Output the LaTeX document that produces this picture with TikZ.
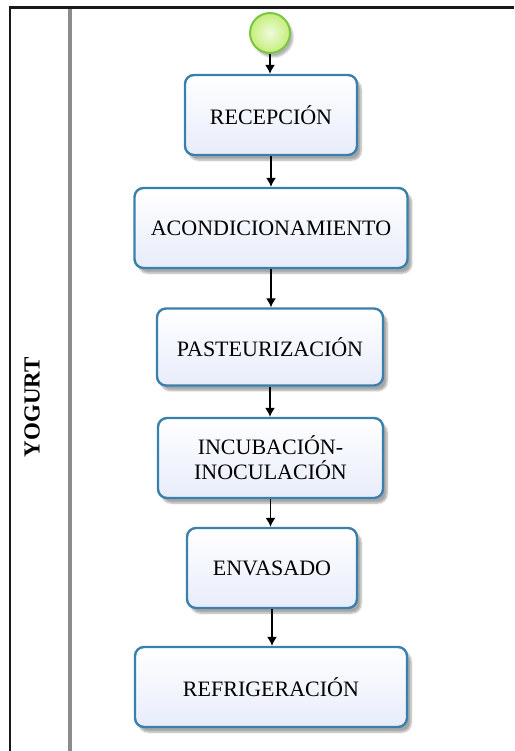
\documentclass[tikz,border=0pt]{standalone}
\usepackage{fontspec}
\setmainfont{Liberation Serif}
\usetikzlibrary{arrows.meta,shadows.blur}
\definecolor{boxborder}{HTML}{3A80AC}
\definecolor{boxfill}{HTML}{E8ECFA}
\definecolor{startfill}{HTML}{C4EE78}
\definecolor{startborder}{HTML}{7CC444}
\tikzset{
  stepbox/.style={rectangle, rounded corners=9pt, draw=boxborder, line width=2.4pt,
    top color=white, bottom color=boxfill, align=center,
    font=\fontsize{22}{25}\selectfont, inner sep=0pt,
    blur shadow={shadow xshift=4pt, shadow yshift=-5pt, shadow opacity=35, shadow blur steps=6}},
  startev/.style={circle, draw=startborder, line width=2pt, inner color=white!75!startfill,
    outer color=startfill, minimum size=40pt, inner sep=0pt,
    blur shadow={shadow xshift=3pt, shadow yshift=-4pt, shadow opacity=30}},
  flow/.style={-{Latex[length=9pt,width=10pt]}, line width=1.3pt, black},
}
\begin{document}
\begin{tikzpicture}[x=1pt,y=-1pt]
\useasboundingbox (0,0) rectangle (514,751);
% pool frame
\draw[line width=4pt, black!45] (69.5,8) -- (69.5,751);
\draw[line width=2.2pt, black!90] (10,751) -- (10,7.5) -- (514,7.5);
\node[rotate=90, font=\fontsize{23}{25}\selectfont\bfseries] (lane) at (32,407) {YOGURT};
% nodes
\node[startev] (start) at (270,33) {};
\node[stepbox, minimum width=172pt, minimum height=80pt] (rec) at (271,115) {RECEPCIÓN};
\node[stepbox, minimum width=273pt, minimum height=80pt] (acond) at (271,228) {ACONDICIONAMIENTO};
\node[stepbox, minimum width=226pt, minimum height=77pt] (past) at (270,347) {PASTEURIZACIÓN};
\node[stepbox, minimum width=225pt, minimum height=80pt] (incub) at (270.5,458) {INCUBACIÓN-\\INOCULACIÓN};
\node[stepbox, minimum width=170pt, minimum height=80pt] (env) at (272,568) {ENVASADO};
\node[stepbox, minimum width=272pt, minimum height=80pt] (refr) at (271,687) {REFRIGERACIÓN};
% connectors
\draw[flow] (start) -- (start|-rec.north);
\draw[flow] (rec) -- (rec|-acond.north);
\draw[flow] (acond) -- (acond|-past.north);
\draw[flow] (past) -- (past|-incub.north);
\draw[flow] (incub) -- (incub|-env.north);
\draw[flow] (env) -- (env|-refr.north);
\end{tikzpicture}
\end{document}
